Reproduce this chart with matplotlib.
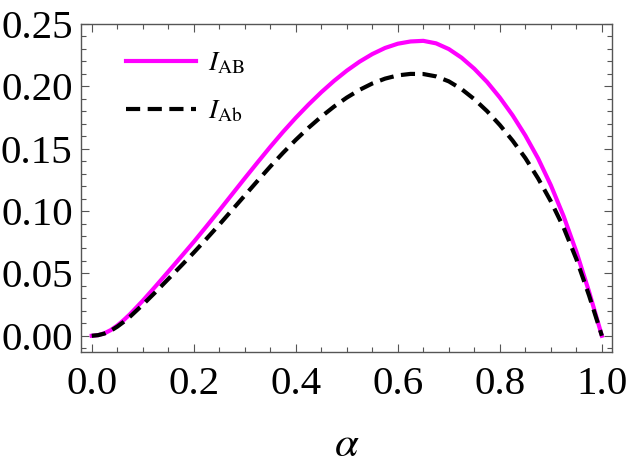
import numpy as np
import matplotlib
matplotlib.use("Agg")
import matplotlib.pyplot as plt
from matplotlib.ticker import MultipleLocator, FormatStrFormatter

# values
alpha = [0.0, 0.0125, 0.025, 0.0375, 0.05, 0.0625, 0.075, 0.10, 0.125, 0.15, 0.175, 0.20, 0.225,
         0.25, 0.275, 0.30, 0.325, 0.35, 0.375, 0.40, 0.425, 0.45, 0.475,
         0.50, 0.525, 0.55, 0.575, 0.60, 0.625, 0.65, 0.675, 0.70, 0.725,
         0.75, 0.775, 0.80, 0.825, 0.85, 0.875, 0.90, 0.925, 0.95, 0.975, 1.0]
I_AB = [0.0000, 0.0005, 0.0020, 0.0046, 0.0082, 0.0125, 0.0173, 0.0281, 0.0396, 0.0514, 0.0633, 0.0753, 0.0878,
        0.1005, 0.1134, 0.1263, 0.1390, 0.1515, 0.1635, 0.1748, 0.1854, 0.1953, 0.2044,
        0.2126, 0.2198, 0.2259, 0.2308, 0.2342, 0.2360, 0.2365, 0.2345, 0.2299, 0.2230,
        0.2141, 0.2035, 0.1910, 0.1768, 0.1606, 0.1422, 0.1207, 0.0959, 0.0674, 0.0352, 0.0000]
I_Ab = [0.0000, 0.0005, 0.0018, 0.0041, 0.0073, 0.0111, 0.0153, 0.0249, 0.0350, 0.0455, 0.0560, 0.0667, 0.0778,
        0.0891, 0.1008, 0.1125, 0.1242, 0.1357, 0.1467, 0.1571, 0.1668, 0.1757, 0.1838,
        0.1910, 0.1972, 0.2023, 0.2062, 0.2088, 0.2100, 0.2099, 0.2080, 0.2040, 0.1978,
        0.1897, 0.1801, 0.1690, 0.1565, 0.1425, 0.1262, 0.1078, 0.0868, 0.0615, 0.0322, 0.0000]
xticks = [0.0, 0.2, 0.4, 0.6, 0.8, 1.0]
yticks = [0.00, 0.05, 0.10, 0.15, 0.20, 0.25]

plt.rcParams['font.family'] = ['Liberation Serif', 'DejaVu Serif']
plt.rcParams['mathtext.fontset'] = 'stix'

fig = plt.figure(figsize=(6.31, 4.69), dpi=100)
ax = fig.add_axes([0.1284, 0.2495, 0.8416, 0.6993])

ax.plot(alpha, I_AB, color='#ff00ff', lw=3.0, label=r'$I_{\mathrm{AB}}$')
ax.plot(alpha, I_Ab, color='black', lw=3.0, dashes=(3.4, 1.8), label=r'$I_{\mathrm{Ab}}$')

ax.set_xlim(-0.021, 1.02)
ax.set_ylim(-0.013, 0.25)
ax.set_xticks(xticks)
ax.set_yticks(yticks)
ax.xaxis.set_major_formatter(FormatStrFormatter('%.1f'))
ax.yaxis.set_major_formatter(FormatStrFormatter('%.2f'))
ax.xaxis.set_minor_locator(MultipleLocator(0.05))
ax.yaxis.set_minor_locator(MultipleLocator(0.01))

for s in ax.spines.values():
    s.set_color('#555555')
    s.set_linewidth(1.0)
ax.tick_params(which='both', direction='in', top=True, right=True, color='#555555', width=0.8)
ax.tick_params(which='major', length=6)
ax.tick_params(which='minor', length=3.5)
ax.tick_params(axis='x', labelsize=29.5, pad=10)
ax.tick_params(axis='y', labelsize=29.5, pad=6)

ax.set_xlabel(r'$\alpha$', fontsize=31, labelpad=17)

ax.legend(loc='upper left', bbox_to_anchor=(0.085, 0.918), frameon=False,
          fontsize=20, handlelength=2.5, handletextpad=0.45, labelspacing=0.8,
          borderaxespad=0, borderpad=0)

fig.savefig('out.png', dpi=100)
